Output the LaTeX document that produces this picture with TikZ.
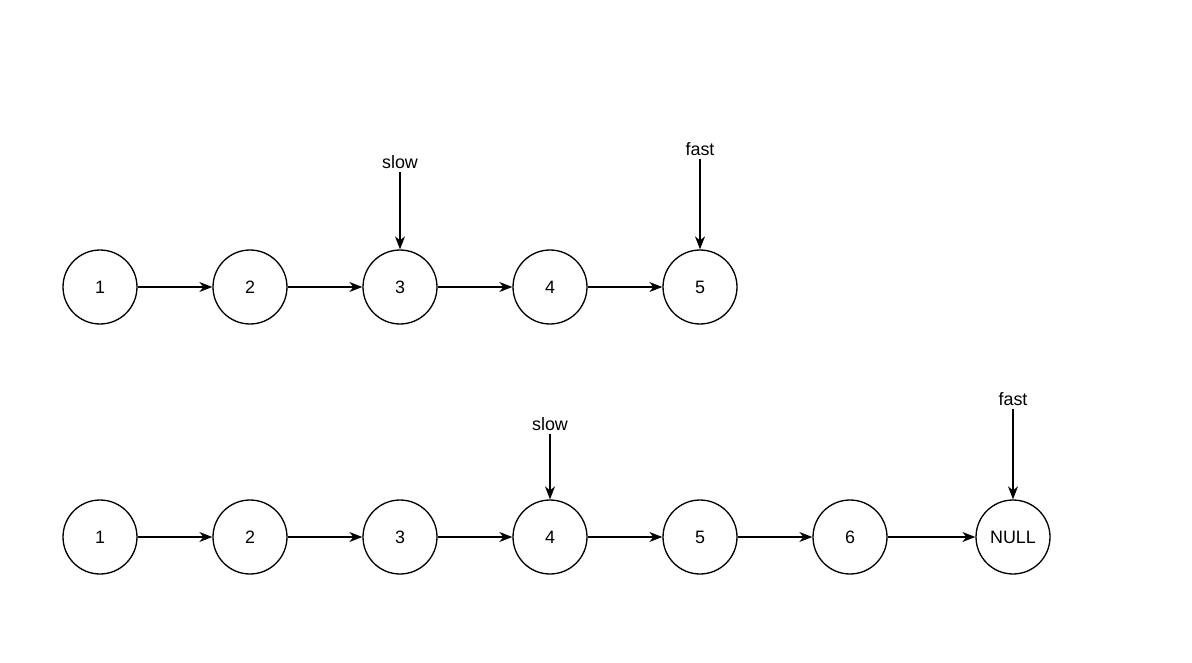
\documentclass[tikz,border=0pt]{standalone}
\usepackage{fontspec}
\setmainfont{Liberation Sans}
\usetikzlibrary{positioning, arrows.meta}

\tikzset{
  elem/.style={circle, draw, line width=0.75pt, minimum size=1.48cm, inner sep=0pt, font=\fontsize{10.2}{12}\selectfont},
  ptr/.style={font=\fontsize{10.2}{12}\selectfont, inner sep=2pt},
  link/.style={-{Stealth[length=2.6mm, width=2mm, inset=0.8mm]}, line width=0.75pt}
}

\begin{document}
\begin{tikzpicture}[x=0.02cm, y=-0.02cm]
  \useasboundingbox (0,0) rectangle (1192,662);
  % lista dispari: slow su 3, fast su 5
  \foreach \i/\x in {1/100, 2/250, 3/400, 4/550, 5/700}{
    \node[elem] (a\i) at (\x,287) {\i};
  }
  \foreach \i/\j in {1/2, 2/3, 3/4, 4/5}{
    \draw[link] (a\i) -- (a\j);
  }
  \node[ptr] (slowa) at (400,162) {slow};
  \node[ptr] (fasta) at (700,149) {fast};
  \draw[link] (slowa.south) -- (a3);
  \draw[link] (fasta.south) -- (a5);

  % lista pari: slow su 4, fast su NULL
  \foreach \i/\x in {1/100, 2/250, 3/400, 4/550, 5/700, 6/850}{
    \node[elem] (b\i) at (\x,537) {\i};
  }
  \node[elem] (b7) at (1013,537) {NULL};
  \foreach \i/\j in {1/2, 2/3, 3/4, 4/5, 5/6, 6/7}{
    \draw[link] (b\i) -- (b\j);
  }
  \node[ptr] (slowb) at (550,424) {slow};
  \node[ptr] (fastb) at (1013,399) {fast};
  \draw[link] (slowb.south) -- (b4);
  \draw[link] (fastb.south) -- (b7);
\end{tikzpicture}
\end{document}
